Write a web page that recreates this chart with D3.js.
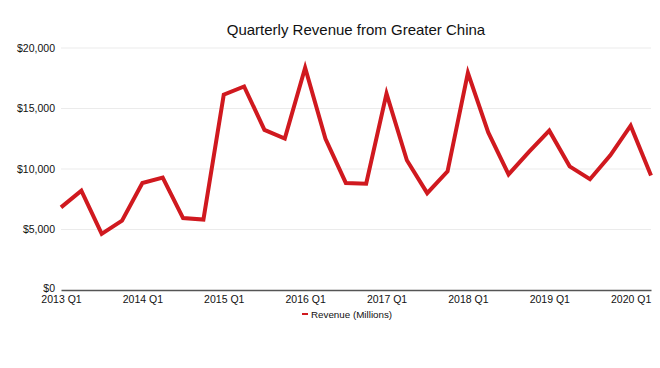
<!DOCTYPE html>
<html>
<head>
<meta charset="utf-8">
<script src="https://cdn.jsdelivr.net/npm/d3@7"></script>
<style>
  body { margin: 0; background: #fff; }
  text { font-family: 'Liberation Sans', Arial, sans-serif; }
</style>
</head>
<body>
<svg id="chart" width="660" height="368"></svg>
<script>
const years = [2013, 2014, 2015, 2016, 2017, 2018, 2019, 2020]
const quarters = ['Q1', 'Q2', 'Q3', 'Q4']
const revenue = [
  6830, 8213, 4641, 5728,
  8837, 9286, 5942, 5817,
  16144, 16823, 13230, 12518,
  18373, 12486, 8848, 8785,
  16233, 10726, 8004, 9801,
  17956, 13024, 9551, 11411,
  13169, 10218, 9157, 11134,
  13578, 9455
]
const yTicks = [0, 5000, 10000, 15000, 20000]

const labels = []
years.forEach(y => quarters.forEach(q => labels.push(y + ' ' + q)))
const data = revenue.map((v, i) => ({ label: labels[i], value: v }))
const tickLabels = years.map(y => y + ' Q1')

const MARGINS = { top: 48, right: 9, bottom: 78, left: 61 }
const svg = d3.select('#chart')
const width = svg.attr('width') - MARGINS.left - MARGINS.right,
  height = svg.attr('height') - MARGINS.top - MARGINS.bottom

const scaleX = d3.scalePoint()
  .domain(data.map(d => d.label))
  .range([0, width])

const scaleY = d3.scaleLinear()
  .domain([0, 20000])
  .range([height, 0])

const g = svg.append('g')
  .attr('transform', 'translate(' + MARGINS.left + ',' + MARGINS.top + ')')

// gridlines
g.append('g')
  .selectAll('line')
  .data(yTicks.slice(1))
  .enter()
  .append('line')
  .attr('x1', 0)
  .attr('x2', width)
  .attr('y1', d => scaleY(d))
  .attr('y2', d => scaleY(d))
  .attr('stroke', '#ebebeb')
  .attr('stroke-width', 1)

// y axis labels
const yAxis = g.append('g')
  .call(d3.axisLeft(scaleY).tickValues(yTicks).tickSize(0).tickPadding(6)
    .tickFormat(d => '$' + d3.format(',')(d)))
yAxis.select('.domain').remove()
yAxis.selectAll('text').attr('font-size', 10.5).attr('fill', '#111')
yAxis.selectAll('.tick').filter(d => d === 0).select('text').attr('dy', '0.1em')

// x axis
const xAxis = g.append('g')
  .attr('transform', 'translate(0,' + height + ')')
  .call(d3.axisBottom(scaleX).tickValues(tickLabels).tickSize(0).tickPadding(6))
xAxis.select('.domain').attr('stroke', '#555').attr('stroke-width', 1.5)
xAxis.selectAll('text').attr('font-size', 10.5).attr('fill', '#111')

const line = d3.line()
  .x(d => scaleX(d.label))
  .y(d => scaleY(d.value))

g.append('path')
  .datum(data)
  .attr('d', line)
  .attr('fill', 'none')
  .attr('stroke', '#d0191f')
  .attr('stroke-width', 4)
  .attr('stroke-linejoin', 'miter')

// title
svg.append('text')
  .attr('x', MARGINS.left + width / 2)
  .attr('y', 35)
  .attr('text-anchor', 'middle')
  .attr('font-size', 15)
  .attr('fill', '#111')
  .text('Quarterly Revenue from Greater China')

// legend
const legend = svg.append('g').attr('transform', 'translate(302,314)')
legend.append('line')
  .attr('x1', 0).attr('x2', 6)
  .attr('y1', 0).attr('y2', 0)
  .attr('stroke', '#d0191f')
  .attr('stroke-width', 2)
legend.append('text')
  .attr('x', 9)
  .attr('y', 3.5)
  .attr('font-size', 9.8)
  .attr('fill', '#111')
  .text('Revenue (Millions)')
</script>
</body>
</html>
